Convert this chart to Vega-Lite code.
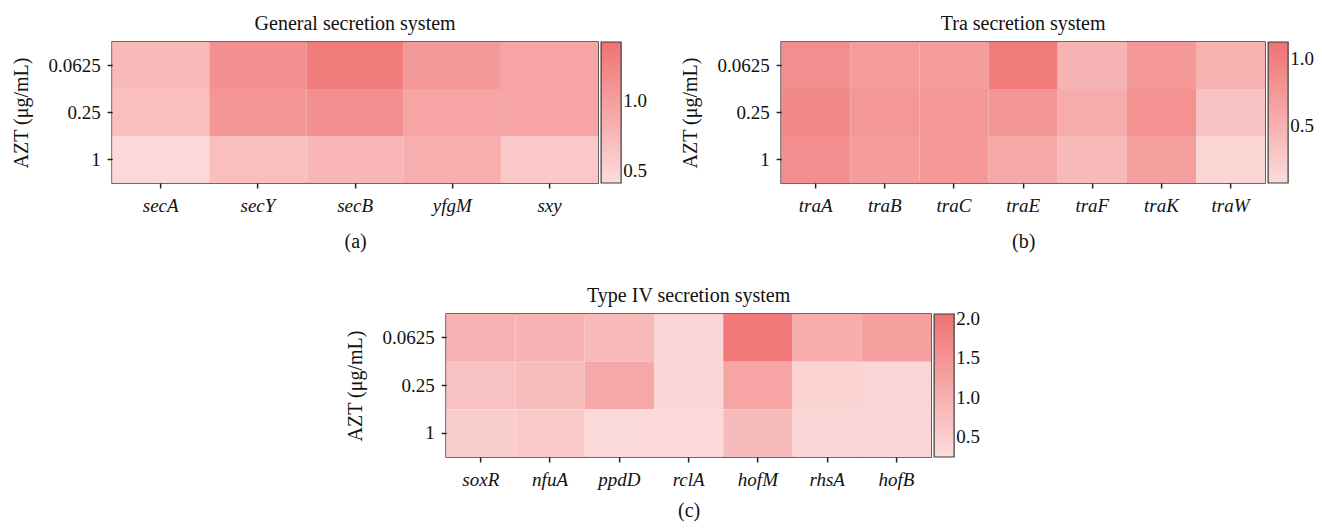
{
  "$schema": "https://vega.github.io/schema/vega-lite/v6.json",
  "background": "white",
  "padding": {"left": 11, "top": 13, "right": 5, "bottom": 5},
  "datasets": {
    "a": [
      {"gene": "secA", "azt": "0.0625", "value": 0.75},
      {"gene": "secY", "azt": "0.0625", "value": 1.15},
      {"gene": "secB", "azt": "0.0625", "value": 1.33},
      {"gene": "yfgM", "azt": "0.0625", "value": 1.05},
      {"gene": "sxy", "azt": "0.0625", "value": 0.95},
      {"gene": "secA", "azt": "0.25", "value": 0.7},
      {"gene": "secY", "azt": "0.25", "value": 1.08},
      {"gene": "secB", "azt": "0.25", "value": 1.15},
      {"gene": "yfgM", "azt": "0.25", "value": 0.95},
      {"gene": "sxy", "azt": "0.25", "value": 0.95},
      {"gene": "secA", "azt": "1", "value": 0.45},
      {"gene": "secY", "azt": "1", "value": 0.7},
      {"gene": "secB", "azt": "1", "value": 0.78},
      {"gene": "yfgM", "azt": "1", "value": 0.85},
      {"gene": "sxy", "azt": "1", "value": 0.6}
    ],
    "b": [
      {"gene": "traA", "azt": "0.0625", "value": 0.85},
      {"gene": "traB", "azt": "0.0625", "value": 0.7},
      {"gene": "traC", "azt": "0.0625", "value": 0.7},
      {"gene": "traE", "azt": "0.0625", "value": 1.05},
      {"gene": "traF", "azt": "0.0625", "value": 0.47},
      {"gene": "traK", "azt": "0.0625", "value": 0.76},
      {"gene": "traW", "azt": "0.0625", "value": 0.5},
      {"gene": "traA", "azt": "0.25", "value": 0.9},
      {"gene": "traB", "azt": "0.25", "value": 0.76},
      {"gene": "traC", "azt": "0.25", "value": 0.76},
      {"gene": "traE", "azt": "0.25", "value": 0.78},
      {"gene": "traF", "azt": "0.25", "value": 0.55},
      {"gene": "traK", "azt": "0.25", "value": 0.82},
      {"gene": "traW", "azt": "0.25", "value": 0.33},
      {"gene": "traA", "azt": "1", "value": 0.85},
      {"gene": "traB", "azt": "1", "value": 0.7},
      {"gene": "traC", "azt": "1", "value": 0.75},
      {"gene": "traE", "azt": "1", "value": 0.6},
      {"gene": "traF", "azt": "1", "value": 0.42},
      {"gene": "traK", "azt": "1", "value": 0.68},
      {"gene": "traW", "azt": "1", "value": 0.15}
    ],
    "c": [
      {"gene": "soxR", "azt": "0.0625", "value": 0.95},
      {"gene": "nfuA", "azt": "0.0625", "value": 0.95},
      {"gene": "ppdD", "azt": "0.0625", "value": 0.85},
      {"gene": "rclA", "azt": "0.0625", "value": 0.35},
      {"gene": "hofM", "azt": "0.0625", "value": 1.95},
      {"gene": "rhsA", "azt": "0.0625", "value": 1.05},
      {"gene": "hofB", "azt": "0.0625", "value": 1.3},
      {"gene": "soxR", "azt": "0.25", "value": 0.7},
      {"gene": "nfuA", "azt": "0.25", "value": 0.78},
      {"gene": "ppdD", "azt": "0.25", "value": 1.15},
      {"gene": "rclA", "azt": "0.25", "value": 0.35},
      {"gene": "hofM", "azt": "0.25", "value": 1.2},
      {"gene": "rhsA", "azt": "0.25", "value": 0.4},
      {"gene": "hofB", "azt": "0.25", "value": 0.37},
      {"gene": "soxR", "azt": "1", "value": 0.5},
      {"gene": "nfuA", "azt": "1", "value": 0.55},
      {"gene": "ppdD", "azt": "1", "value": 0.3},
      {"gene": "rclA", "azt": "1", "value": 0.32},
      {"gene": "hofM", "azt": "1", "value": 0.82},
      {"gene": "rhsA", "azt": "1", "value": 0.35},
      {"gene": "hofB", "azt": "1", "value": 0.35}
    ]
  },
  "vconcat": [
    {
      "hconcat": [
        {
          "data": {"name": "a"},
          "title": "General secretion system",
          "width": 486,
          "height": 141,
          "mark": "rect",
          "encoding": {
            "x": {"field": "gene", "type": "nominal", "sort": ["secA", "secY", "secB", "yfgM", "sxy"], "title": "(a)"},
            "y": {"field": "azt", "type": "nominal", "sort": ["0.0625", "0.25", "1"], "title": "AZT (μg/mL)"},
            "color": {"field": "value", "type": "quantitative",
              "scale": {"domain": [0.41, 1.43], "range": ["#fcdcdc", "#f07272"], "interpolate": "rgb"},
              "legend": {"title": null, "values": [0.5, 1.0], "format": ".1f", "gradientLength": 141}}
          }
        },
        {
          "data": {"name": "b"},
          "title": "Tra secretion system",
          "width": 484,
          "height": 141,
          "mark": "rect",
          "encoding": {
            "x": {"field": "gene", "type": "nominal", "sort": ["traA", "traB", "traC", "traE", "traF", "traK", "traW"], "title": "(b)"},
            "y": {"field": "azt", "type": "nominal", "sort": ["0.0625", "0.25", "1"], "title": "AZT (μg/mL)"},
            "color": {"field": "value", "type": "quantitative",
              "scale": {"domain": [0.07, 1.13], "range": ["#fcdcdc", "#f07272"], "interpolate": "rgb"},
              "legend": {"title": null, "values": [0.5, 1.0], "format": ".1f", "gradientLength": 141}}
          }
        }
      ],
      "spacing": 32,
      "resolve": {"scale": {"color": "independent"}}
    },
    {
      "data": {"name": "c"},
      "title": "Type IV secretion system",
      "width": 485,
      "height": 143,
      "mark": "rect",
      "encoding": {
        "x": {"field": "gene", "type": "nominal", "sort": ["soxR", "nfuA", "ppdD", "rclA", "hofM", "rhsA", "hofB"], "title": "(c)", "axis": {"titlePadding": 11}},
        "y": {"field": "azt", "type": "nominal", "sort": ["0.0625", "0.25", "1"], "title": "AZT (μg/mL)"},
        "color": {"field": "value", "type": "quantitative",
          "scale": {"domain": [0.245, 2.065], "range": ["#fcdcdc", "#f07272"], "interpolate": "rgb"},
          "legend": {"title": null, "values": [0.5, 1.0, 1.5, 2.0], "format": ".1f", "gradientLength": 143}}
      }
    }
  ],
  "spacing": 33,
  "center": true,
  "resolve": {"scale": {"color": "independent"}},
  "config": {
    "font": "Liberation Serif",
    "view": {"stroke": "#3a3a3a", "strokeWidth": 1.5},
    "scale": {"bandPaddingInner": 0, "bandPaddingOuter": 0},
    "axis": {
      "labelFont": "Liberation Serif", "labelFontSize": 19, "labelColor": "#111",
      "titleFont": "Liberation Serif", "titleFontSize": 20, "titleFontWeight": "normal", "titleColor": "#111",
      "tickColor": "#222", "tickSize": 5, "tickWidth": 1.5, "domain": false, "grid": false, "labelPadding": 7
    },
    "axisX": {"labelFontStyle": "italic", "labelAngle": 0, "labelPadding": 8, "titlePadding": 16},
    "axisY": {"titlePadding": 16},
    "title": {"font": "Liberation Serif", "fontSize": 20, "fontWeight": "normal", "color": "#111", "offset": 8},
    "legend": {
      "gradientThickness": 20, "gradientStrokeColor": "#3a3a3a", "gradientStrokeWidth": 1.2,
      "offset": 3, "labelFont": "Liberation Serif", "labelFontSize": 19, "labelColor": "#111", "labelOffset": 6, "padding": 0
    }
  }
}
